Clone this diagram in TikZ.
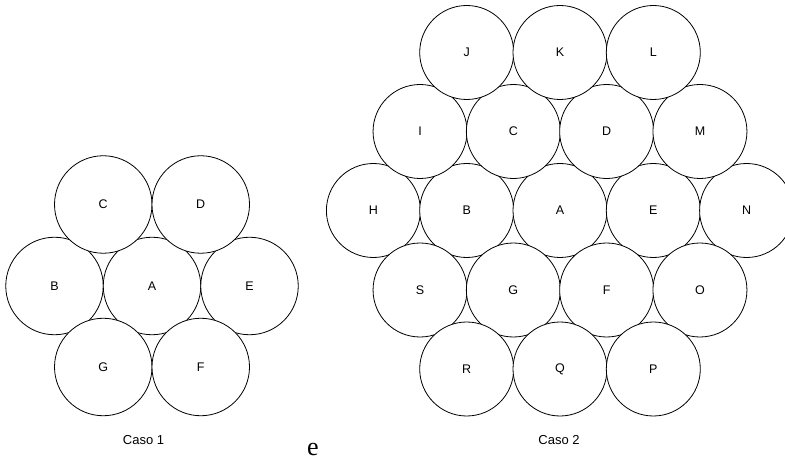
\documentclass[tikz,border=0pt]{standalone}
\usepackage{fontspec}
\setmainfont{Liberation Sans}
\newfontfamily\serifx{Liberation Serif}
\begin{document}
\begin{tikzpicture}[x=1bp,y=-1bp,
  bigcirc/.style={circle,draw=black,line width=0.8bp,fill=white,minimum size=97.5bp,inner sep=0pt,font=\fontsize{12.5bp}{14bp}\selectfont},
  smallcirc/.style={circle,draw=black,line width=0.8bp,fill=white,minimum size=94bp,inner sep=0pt,font=\fontsize{12.5bp}{14bp}\selectfont},
  caption/.style={anchor=base,inner sep=0pt,font=\fontsize{13bp}{15bp}\selectfont}]
\useasboundingbox (0,0) rectangle (785,462);
\begin{scope}
\clip (0,0) rectangle (785,462);
% Caso 1 (middle row first, outer rows on top)
\node[bigcirc] (c1B) at (54.5,286) {B};
\node[bigcirc] (c1A) at (152,286) {A};
\node[bigcirc] (c1E) at (249.5,286) {E};
\node[bigcirc] (c1C) at (103.25,204.5) {C};
\node[bigcirc] (c1D) at (200.75,204.5) {D};
\node[bigcirc] (c1G) at (103.25,367) {G};
\node[bigcirc] (c1F) at (200.75,367) {F};
% Caso 2
\node[smallcirc] (c2H) at (373.4,210.5) {H};
\node[smallcirc] (c2B) at (466.7,210.5) {B};
\node[smallcirc] (c2A) at (560,210.5) {A};
\node[smallcirc] (c2E) at (653.3,210.5) {E};
\node[smallcirc] (c2N) at (746.6,210.5) {N};
\node[smallcirc] (c2I) at (420.05,131.5) {I};
\node[smallcirc] (c2C) at (513.35,131.5) {C};
\node[smallcirc] (c2D) at (606.65,131.5) {D};
\node[smallcirc] (c2M) at (699.95,131.5) {M};
\node[smallcirc] (c2S) at (420.05,290) {S};
\node[smallcirc] (c2G) at (513.35,290) {G};
\node[smallcirc] (c2F) at (606.65,290) {F};
\node[smallcirc] (c2O) at (699.95,290) {O};
\node[smallcirc] (c2J) at (466.7,52.5) {J};
\node[smallcirc] (c2K) at (560,52.5) {K};
\node[smallcirc] (c2L) at (653.3,52.5) {L};
\node[smallcirc] (c2R) at (466.7,369) {R};
\node[smallcirc] (c2Q) at (560,369) {Q};
\node[smallcirc] (c2P) at (653.3,369) {P};
\end{scope}
\node[caption] (cap1) at (143.5,444) {Caso 1};
\node[caption] (cap2) at (559,444) {Caso 2};
\node[anchor=base,inner sep=0pt,font=\serifx\fontsize{26bp}{30bp}\selectfont] (conj) at (313,455) {e};
\end{tikzpicture}
\end{document}
